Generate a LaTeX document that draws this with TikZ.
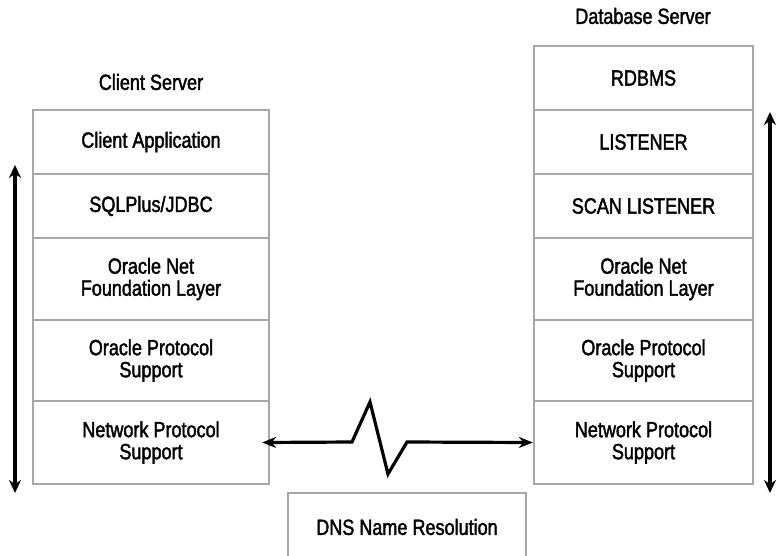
\documentclass[tikz,border=0pt]{standalone}
\usepackage{fontspec}
\setmainfont[FakeStretch=0.82, FakeBold=1.8]{Liberation Sans}
\usetikzlibrary{arrows.meta}
\definecolor{boxgray}{HTML}{A6A6A6}
\tikzset{
  layer/.style={draw=boxgray, line width=2.3pt, align=center, inner sep=0pt,
    font=\fontsize{22}{22}\selectfont},
  clientlayer/.style={layer, minimum width=236pt},
  serverlayer/.style={layer, minimum width=219pt},
  title/.style={font=\fontsize{22}{22}\selectfont},
  updown/.style={{Stealth[length=13pt,width=12pt]}-{Stealth[length=13pt,width=12pt]}, line width=3.5pt},
  link/.style={{Stealth[length=14pt,width=11pt]}-{Stealth[length=14pt,width=11pt]}, line width=3.2pt, line join=miter}
}
\begin{document}
\begin{tikzpicture}[x=1pt,y=-1pt]
\useasboundingbox (0,0) rectangle (776,555);

   % client stack
   \node[title] at (151,82) (clienttitle) {Client Server};
   \node[clientlayer, minimum height=64pt] at (151,142) (capp) {Client Application};
   \node[clientlayer, minimum height=64pt] at (151,206) (sqlp) {SQLPlus/JDBC};
   \node[clientlayer, minimum height=82pt] at (151,279) (cnet) {Oracle Net\\Foundation Layer};
   \node[clientlayer, minimum height=81pt] at (151,360.5) (cops) {Oracle Protocol\\Support};
   \node[clientlayer, minimum height=83pt] at (151,442.5) (cnps) {Network Protocol\\Support};

   % server stack
   \node[title] at (643,16) (dbtitle) {Database Server};
   \node[serverlayer, minimum height=64pt] at (643.5,78) (rdbms) {RDBMS};
   \node[serverlayer, minimum height=64pt] at (643.5,142) (lsnr) {LISTENER};
   \node[serverlayer, minimum height=64pt] at (643.5,206) (scan) {SCAN LISTENER};
   \node[serverlayer, minimum height=82pt] at (643.5,279) (snet) {Oracle Net\\Foundation Layer};
   \node[serverlayer, minimum height=81pt] at (643.5,360.5) (sops) {Oracle Protocol\\Support};
   \node[serverlayer, minimum height=83pt] at (643.5,442.5) (snps) {Network Protocol\\Support};

   \node[layer, minimum width=238pt, minimum height=68pt] at (407,527) (dns) {DNS Name Resolution};

   % stack arrows
   \coordinate (clienttop) at (15,165);
   \coordinate (clientbot) at (15,493);
   \coordinate (servertop) at (770,112);
   \coordinate (serverbot) at (770,493);
   \draw[updown] (clienttop) -- (clientbot);
   \draw[updown] (servertop) -- (serverbot);

   % network link
   \coordinate (z1) at (352,442);
   \coordinate (z2) at (370,402);
   \coordinate (z3) at (388,474);
   \coordinate (z4) at (407,442);
   \draw[link] ([xshift=-8pt]cnps.east) -- (z1) -- (z2) -- (z3) -- (z4) -- (snps.west);

\end{tikzpicture}
\end{document}
